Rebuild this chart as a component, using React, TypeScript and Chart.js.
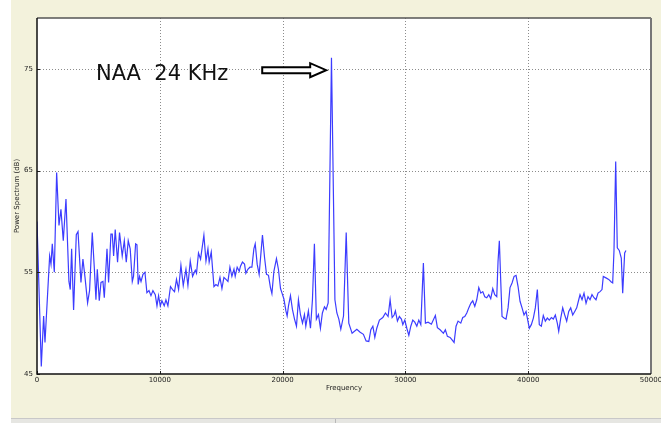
import React, { useEffect, useRef } from "react";
import { Chart, registerables } from "chart.js";

Chart.register(...registerables);

// ---- data ----
const frequencies = [
  0, 350, 540, 650, 1030, 1140, 1245, 1410, 1600, 1790, 1950, 2140, 2360, 2600, 2710, 2820, 2980,
  3200, 3340, 3580, 3740, 3910, 4120, 4280, 4500, 4660, 4800, 4910, 5070, 5210, 5370, 5480, 5700,
  5830, 6020, 6130, 6240, 6370, 6560, 6720, 6940, 7110, 7270, 7430, 7590, 7760, 7860, 8030, 8140,
  8240, 8350, 8470, 8630, 8790, 8950, 9120, 9280, 9440, 9630, 9770, 9900, 10040, 10170, 10360,
  10500, 10660, 10870, 11040, 11200, 11360, 11530, 11720, 11910, 12130, 12290, 12480, 12670, 12890,
  12990, 13150, 13320, 13590, 13760, 13920, 14020, 14190, 14410, 14570, 14730, 14900, 15060, 15220,
  15390, 15550, 15710, 15870, 16040, 16140, 16300, 16470, 16570, 16730, 16900, 17010, 17170, 17340,
  17500, 17660, 17770, 17930, 18090, 18360, 18530, 18690, 18850, 19010, 19130, 19290, 19500, 19660,
  19830, 19940, 20100, 20270, 20370, 20480, 20640, 20800, 20970, 21130, 21290, 21450, 21620, 21780,
  21890, 22100, 22270, 22430, 22590, 22750, 22920, 23080, 23240, 23410, 23550, 23710, 23980, 24260,
  24420, 24580, 24740, 24960, 25180, 25390, 25660, 26045, 26315, 26580, 26800, 27020, 27185, 27350,
  27510, 27670, 27885, 28160, 28375, 28590, 28755, 28920, 29080, 29185, 29350, 29510, 29675, 29790,
  29950, 30115, 30280, 30440, 30600, 30765, 30930, 31090, 31255, 31465, 31630, 31850, 32115, 32440,
  32605, 32825, 33095, 33255, 33420, 33640, 33800, 33965, 34125, 34290, 34510, 34670, 34835, 35000,
  35160, 35325, 35485, 35650, 35810, 35975, 36140, 36300, 36465, 36625, 36790, 36950, 37115, 37275,
  37440, 37545, 37650, 37765, 37870, 38035, 38195, 38360, 38520, 38685, 38850, 39010, 39175, 39335,
  39500, 39660, 39825, 39930, 40090, 40255, 40420, 40580, 40745, 40905, 41070, 41230, 41395, 41560,
  41720, 41885, 42045, 42210, 42370, 42485, 42650, 42810, 42975, 43135, 43300, 43460, 43625, 43790,
  43950, 44115, 44220, 44385, 44545, 44710, 44870, 45035, 45195, 45360, 45520, 45685, 45850, 46010,
  46115, 46335, 46555, 46765, 46880, 46985, 47125, 47255, 47415, 47580, 47695, 47855, 47960,
];

const powerDb = [
  60.0, 45.75, 50.7, 48.1, 56.6, 55.8, 57.8, 55.0, 64.8, 59.6, 61.2, 58.1, 62.2, 54.1, 53.3, 57.3, 51.3,
  58.7, 59.0, 54.0, 56.3, 54.5, 52.0, 53.2, 58.9, 55.6, 52.3, 55.3, 52.2, 54.0, 54.1, 52.5, 57.3,
  54.0, 58.75, 58.75, 56.6, 59.2, 56.0, 58.9, 56.6, 58.1, 56.0, 58.1, 57.3, 54.1, 54.6, 57.8, 57.7,
  53.8, 54.6, 54.1, 54.8, 55.0, 53.0, 53.2, 52.7, 53.2, 52.8, 51.7, 52.7, 51.7, 52.2, 51.7,
  52.3, 51.7, 53.6, 53.3, 53.1, 54.3, 53.3, 55.7, 53.7, 55.3, 53.7, 56.1, 54.6, 55.2,
  54.9, 56.9, 56.3, 58.65, 56.1, 57.3, 56.0, 57.0, 53.6, 53.8, 53.65, 54.5, 53.4, 54.5,
  54.3, 54.1, 55.5, 54.6, 55.3, 54.6, 55.5, 55.1, 55.6, 56.0, 55.8, 54.9, 55.3, 55.5,
  55.5, 57.3, 57.8, 55.8, 54.8, 58.65, 56.45, 54.8, 54.7, 53.5, 52.9, 55.1, 56.35, 55.3,
  53.4, 53.0, 52.4, 51.2, 50.7, 51.7, 52.7, 51.35, 50.4, 49.7, 52.3, 50.85, 50.0, 50.85,
  49.7, 51.2, 49.5, 52.3, 57.8, 50.4, 50.85, 49.5, 51.0, 51.6, 51.35, 52.0, 76.1, 52.3,
  51.0, 50.4, 49.4, 50.7, 58.9, 50.0, 49.0, 49.4, 49.1, 48.9, 48.25, 48.2, 49.35, 49.7,
  48.6, 49.5, 50.3, 50.55, 51.0, 50.65, 52.3, 50.55, 50.8, 51.2, 50.2, 50.65, 50.4, 49.85,
  50.3, 49.5, 48.8, 49.7, 50.3, 50.1, 49.7, 50.3, 49.85, 55.9, 50.0, 50.1, 49.9, 50.75,
  49.55, 49.35, 49.0, 49.35, 48.7, 48.6, 48.35, 48.1, 49.7, 50.2, 50.0, 50.55, 50.65, 51.0,
  51.5, 51.95, 52.2, 51.65, 52.3, 53.5, 52.95, 53.1, 52.6, 52.5, 52.8, 52.4, 53.4, 52.8,
  52.6, 56.1, 58.1, 54.1, 50.65, 50.5, 50.4, 51.5, 53.5, 53.95, 54.6, 54.7, 53.6, 52.15,
  51.5, 50.8, 51.15, 50.5, 49.5, 49.85, 50.5, 51.5, 53.3, 49.85, 49.7, 50.75, 50.2, 50.5,
  50.3, 50.55, 50.4, 50.8, 50.0, 49.2, 50.5, 51.5, 50.8, 50.2, 51.15, 51.5, 50.8, 51.15,
  51.5, 52.3, 52.8, 52.3, 52.95, 51.95, 52.6, 52.3, 52.8, 52.5, 52.3, 52.95, 53.1, 53.3,
  54.6, 54.45, 54.3, 54.05, 53.95, 57.1, 65.9, 57.4, 57.15, 56.4, 52.95, 56.9, 57.15,
];

const xTickValues = [0, 10000, 20000, 30000, 40000, 50000];
const yTickValues = [45, 55, 65, 75];
const xRange = [0, 50000];
const yRange = [45, 80];
const xTitle = "Frequency";
const yTitle = "Power Spectrum (dB)";
const annotationText = "NAA  24 KHz";

// annotation anchors, in data units
const annotTextAt = { x: 4800, y: 73.9 };
const annotArrowFromX = 18340;
const annotArrowToX = 23550;
const annotArrowY = 74.87;

const FONT = "'DejaVu Sans', 'Liberation Sans', sans-serif";

const framePlugin = {
  id: "frame",
  beforeDatasetsDraw(chart: any) {
    const { ctx, chartArea: a, scales } = chart;
    const xs = scales.x;
    const ys = scales.y;
    ctx.save();
    ctx.fillStyle = "#ffffff";
    ctx.fillRect(a.left, a.top, a.right - a.left, a.bottom - a.top);
    ctx.strokeStyle = "#8c8c8c";
    ctx.lineWidth = 1;
    ctx.setLineDash([1, 2]);
    xTickValues.forEach((v) => {
      if (v <= xRange[0] || v >= xRange[1]) return;
      const px = Math.round(xs.getPixelForValue(v)) + 0.5;
      ctx.beginPath();
      ctx.moveTo(px, a.top);
      ctx.lineTo(px, a.bottom);
      ctx.stroke();
    });
    yTickValues.forEach((v) => {
      if (v <= yRange[0] || v >= yRange[1]) return;
      const py = Math.round(ys.getPixelForValue(v)) + 0.5;
      ctx.beginPath();
      ctx.moveTo(a.left, py);
      ctx.lineTo(a.right, py);
      ctx.stroke();
    });
    ctx.restore();
  },
  afterDraw(chart: any) {
    const { ctx, chartArea: a, scales } = chart;
    const xs = scales.x;
    const ys = scales.y;
    ctx.save();
    // inward tick marks
    ctx.strokeStyle = "#222";
    ctx.lineWidth = 1;
    xTickValues.forEach((v) => {
      const px = Math.round(xs.getPixelForValue(v)) + 0.5;
      ctx.beginPath();
      ctx.moveTo(px, a.bottom);
      ctx.lineTo(px, a.bottom - 3);
      ctx.stroke();
    });
    yTickValues.forEach((v) => {
      const py = Math.round(ys.getPixelForValue(v)) + 0.5;
      ctx.beginPath();
      ctx.moveTo(a.left, py);
      ctx.lineTo(a.left + 3, py);
      ctx.stroke();
    });
    // frame
    ctx.lineWidth = 1.5;
    ctx.strokeStyle = "#555";
    ctx.beginPath();
    ctx.moveTo(a.left, a.top);
    ctx.lineTo(a.right, a.top);
    ctx.stroke();
    ctx.strokeStyle = "#777";
    ctx.lineWidth = 2;
    ctx.beginPath();
    ctx.moveTo(a.right, a.top);
    ctx.lineTo(a.right, a.bottom);
    ctx.stroke();
    ctx.strokeStyle = "#111";
    ctx.lineWidth = 1.5;
    ctx.beginPath();
    ctx.moveTo(a.left, a.top);
    ctx.lineTo(a.left, a.bottom);
    ctx.lineTo(a.right, a.bottom);
    ctx.stroke();

    // annotation text
    ctx.fillStyle = "#111";
    ctx.font = `21px ${FONT}`;
    ctx.textAlign = "left";
    ctx.textBaseline = "alphabetic";
    ctx.fillText(annotationText, xs.getPixelForValue(annotTextAt.x), ys.getPixelForValue(annotTextAt.y));

    // outlined arrow
    const x0 = xs.getPixelForValue(annotArrowFromX);
    const x1 = xs.getPixelForValue(annotArrowToX);
    const cy = ys.getPixelForValue(annotArrowY);
    const headLen = 16;
    const shaftHalf = 3;
    const headHalf = 7;
    ctx.beginPath();
    ctx.moveTo(x0, cy - shaftHalf);
    ctx.lineTo(x1 - headLen, cy - shaftHalf);
    ctx.lineTo(x1 - headLen, cy - headHalf);
    ctx.lineTo(x1, cy);
    ctx.lineTo(x1 - headLen, cy + headHalf);
    ctx.lineTo(x1 - headLen, cy + shaftHalf);
    ctx.lineTo(x0, cy + shaftHalf);
    ctx.closePath();
    ctx.fillStyle = "#fff";
    ctx.fill();
    ctx.strokeStyle = "#000";
    ctx.lineWidth = 2;
    ctx.lineJoin = "miter";
    ctx.stroke();
    ctx.restore();
  },
};

function SpectrumChart() {
  const canvasRef = useRef<HTMLCanvasElement | null>(null);

  useEffect(() => {
    const canvas = canvasRef.current;
    if (!canvas) return;
    const points = frequencies.map((f, i) => ({ x: f, y: powerDb[i] }));
    const tickFont = { family: FONT, size: 7 };
    const chart = new Chart(canvas, {
      type: "line",
      data: {
        datasets: [
          {
            data: points,
            borderColor: "#3c3cff",
            borderWidth: 1.2,
            pointRadius: 0,
            tension: 0,
            fill: false,
          },
        ],
      },
      options: {
        animation: false,
        responsive: false,
        devicePixelRatio: 1,
        layout: { padding: { top: 18, right: 10, left: 0, bottom: 0 } },
        plugins: { legend: { display: false }, tooltip: { enabled: false } },
        scales: {
          x: {
            type: "linear",
            min: xRange[0],
            max: xRange[1],
            afterBuildTicks: (s: any) => {
              s.ticks = xTickValues.map((v) => ({ value: v }));
            },
            afterFit: (s: any) => {
              s.height = 44;
              s.paddingLeft = 0;
              s.paddingRight = 0;
            },
            grid: { display: false, drawTicks: false },
            border: { display: false },
            ticks: {
              font: tickFont,
              color: "#222",
              padding: 2,
              maxRotation: 0,
              autoSkip: false,
              callback: (v: any) => String(v),
            },
            title: {
              display: true,
              text: xTitle,
              font: tickFont,
              color: "#222",
              padding: { top: 0, bottom: 26 },
            },
          },
          y: {
            type: "linear",
            min: yRange[0],
            max: yRange[1],
            afterBuildTicks: (s: any) => {
              s.ticks = yTickValues.map((v) => ({ value: v }));
            },
            afterFit: (s: any) => {
              s.width = 37;
              s.paddingTop = 0;
              s.paddingBottom = 0;
            },
            grid: { display: false, drawTicks: false },
            border: { display: false },
            ticks: {
              font: tickFont,
              color: "#222",
              padding: 4,
              autoSkip: false,
              callback: (v: any) => String(v),
            },
            title: {
              display: true,
              text: yTitle,
              font: tickFont,
              color: "#222",
              padding: { top: 13, bottom: 0 },
            },
          },
        },
      },
      plugins: [framePlugin],
    });
    return () => chart.destroy();
  }, []);

  return (
    <div
      style={{
        position: "fixed",
        left: 0,
        top: 0,
        width: 661,
        height: 423,
        background: "#ffffff",
        overflow: "hidden",
      }}
    >
      <div
        style={{
          position: "absolute",
          left: 11,
          top: 0,
          width: 650,
          height: 418,
          background: "#f3f2dc",
        }}
      />
      <div
        style={{
          position: "absolute",
          left: 11,
          top: 418,
          width: 650,
          height: 5,
          background: "#e6e6e2",
          borderTop: "1px solid #c8c8c8",
        }}
      />
      <div
        style={{
          position: "absolute",
          left: 335,
          top: 419,
          width: 1,
          height: 4,
          background: "#b8b8b8",
        }}
      />
      <canvas
        ref={canvasRef}
        width={661}
        height={418}
        style={{ position: "absolute", left: 0, top: 0, width: 661, height: 418 }}
      />
    </div>
  );
}

export default function App() {
  return <SpectrumChart />;
}
